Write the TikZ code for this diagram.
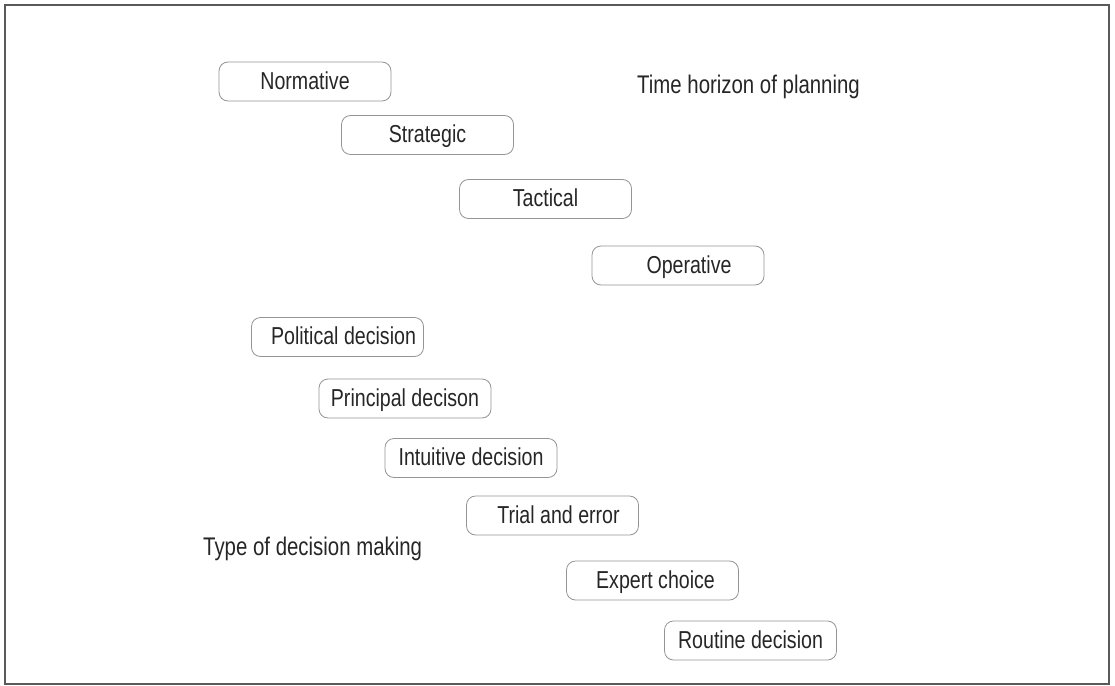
\documentclass[tikz,border=0pt]{standalone}
\usepackage{fontspec}
\setmainfont{Liberation Sans}[FakeStretch=0.8]
\begin{document}
\begin{tikzpicture}[x=1pt,y=-1pt,
  stage/.style={draw=black!42, line width=0.8pt, rounded corners=9pt,
    minimum width=172pt, minimum height=39pt, inner sep=0pt,
    text height=15pt, text depth=0pt,
    font=\fontsize{24.5}{27}\selectfont, text=black!85},
  caption/.style={inner sep=0pt, anchor=base west,
    font=\fontsize{25.5}{29}\selectfont, text=black!85}]
\useasboundingbox (0,0) rectangle (1115,685);
% outer frame
\node[draw=black!65, line width=1.3pt, minimum width=1104pt, minimum height=679pt,
  inner sep=0pt] (frame) at (557,344.5) {};

% planning levels
\node[stage] (normative) at (305,81.5)   {Normative};
\node[stage] (strategic) at (427.5,135)  {Strategic};
\node[stage] (tactical)  at (545.5,199)  {Tactical};
\node[stage] (operative) at (678,265.5)  {\hspace*{22pt}Operative};

% decision types
\node[stage] (political) at (337.5,337)  {\hspace*{12pt}Political decision};
\node[stage] (principal) at (405,398.5)  {Principal decison};
\node[stage] (intuitive) at (471,458)    {Intuitive decision};
\node[stage] (trial)     at (552.5,515.5){\hspace*{12pt}Trial and error};
\node[stage] (expert)    at (652.5,580.5){\hspace*{6pt}Expert choice};
\node[stage] (routine)   at (750.5,640.5){Routine decision};

% axis captions
\node[caption] (horizon) at (637,93)  {Time horizon of planning};
\node[caption] (typedm)  at (203,555) {Type of decision making};
\end{tikzpicture}
\end{document}
